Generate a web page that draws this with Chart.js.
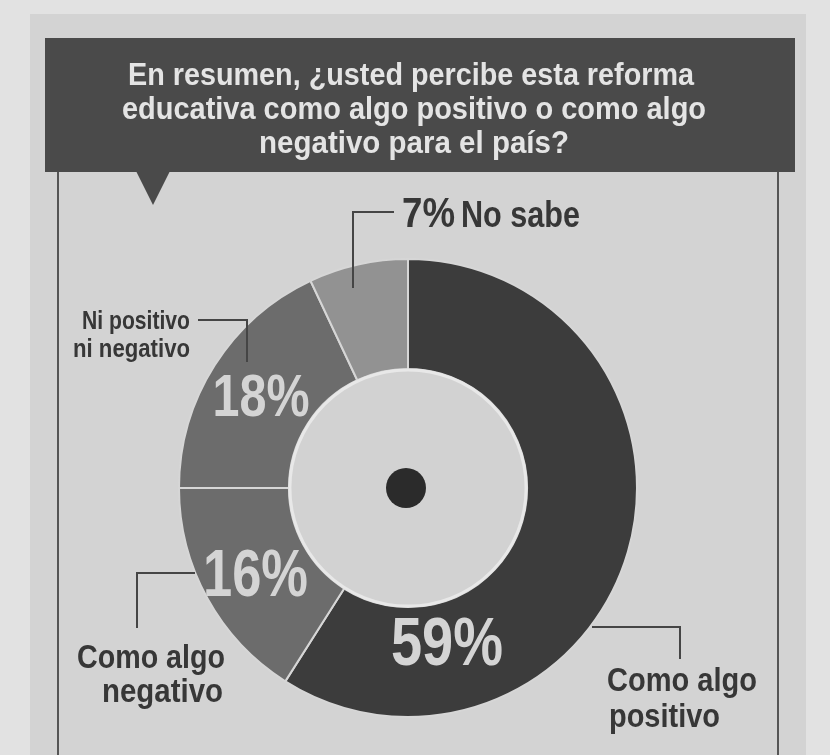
<!DOCTYPE html>
<html>
<head>
<meta charset="utf-8">
<script src="https://cdn.jsdelivr.net/npm/chart.js@4/dist/chart.umd.min.js"></script>
<style>
html, body { margin: 0; padding: 0; background: #e2e2e2; }
#wrap { position: relative; width: 830px; height: 755px; overflow: hidden; }
#panel { position: absolute; left: 30px; top: 14px; width: 776px; height: 760px; background: #d3d3d3; }
canvas { position: absolute; left: 0; top: 0; }
</style>
</head>
<body>
<div id="wrap">
  <div id="panel"></div>
  <canvas id="chart" width="830" height="755"></canvas>
</div>
<script>
const categories = ['Como algo positivo', 'Como algo negativo', 'Ni positivo ni negativo', 'No sabe'];
const values = [59, 16, 18, 7];
const segmentColors = ['#3c3c3c', '#6c6c6c', '#6c6c6c', '#929292'];
const titleLines = [
    'En resumen, ¿usted percibe esta reforma',
    'educativa como algo positivo o como algo',
    'negativo para el país?'
];

const FONT = '"Liberation Sans", Arial, sans-serif';

// draws bold text squeezed to a given width (the paper uses a condensed face)
function txt(ctx, s, x, y, size, color, align, w) {
    ctx.save();
    ctx.font = 'bold ' + size + 'px ' + FONT;
    const m = ctx.measureText(s).width;
    ctx.translate(x, y);
    ctx.scale(w / m, 1);
    ctx.fillStyle = color;
    ctx.textAlign = align;
    ctx.textBaseline = 'alphabetic';
    ctx.fillText(s, 0, 0);
    ctx.restore();
}

function line(ctx, pts) {
    ctx.beginPath();
    ctx.moveTo(pts[0][0], pts[0][1]);
    for (let i = 1; i < pts.length; i++) ctx.lineTo(pts[i][0], pts[i][1]);
    ctx.stroke();
}

const decor = {
    id: 'decor',
    beforeDraw(chart) {
        const ctx = chart.ctx;
        ctx.save();
        // frame
        ctx.strokeStyle = '#555';
        ctx.lineWidth = 2;
        line(ctx, [[58, 172], [58, 760]]);
        line(ctx, [[778, 172], [778, 760]]);
        // title box + pointer
        ctx.fillStyle = '#4a4a4a';
        ctx.fillRect(45, 38, 750, 134);
        ctx.beginPath();
        ctx.moveTo(136, 171);
        ctx.lineTo(170, 171);
        ctx.lineTo(153, 205);
        ctx.closePath();
        ctx.fill();
        ctx.restore();
        txt(ctx, titleLines[0], 411, 85, 32, '#e4e4e4', 'center', 566);
        txt(ctx, titleLines[1], 414, 119, 32, '#e4e4e4', 'center', 584);
        txt(ctx, titleLines[2], 414, 153, 32, '#e4e4e4', 'center', 310);
    },
    afterDatasetsDraw(chart) {
        const ctx = chart.ctx;
        const arcs = chart.getDatasetMeta(0).data;
        const a0 = arcs[0];
        const cx = a0.x, cy = a0.y;
        const rin = a0.innerRadius, rout = a0.outerRadius;

        ctx.save();
        // inner disc with its light rim
        ctx.beginPath();
        ctx.arc(cx, cy, rin - 1, 0, Math.PI * 2);
        ctx.fillStyle = '#d2d2d2';
        ctx.fill();
        ctx.strokeStyle = '#e8e8e8';
        ctx.lineWidth = 3;
        ctx.stroke();
        // center dot
        ctx.beginPath();
        ctx.arc(cx - 2, cy, 20, 0, Math.PI * 2);
        ctx.fillStyle = '#2b2b2b';
        ctx.fill();

        // leader lines
        ctx.strokeStyle = '#454545';
        ctx.lineWidth = 2;
        line(ctx, [[353, 288], [353, 212], [394, 212]]);
        line(ctx, [[198, 320], [247, 320], [247, 362]]);
        line(ctx, [[195, 573], [137, 573], [137, 628]]);
        line(ctx, [[592, 627], [680, 627], [680, 659]]);
        ctx.restore();

        // percentage inside the ring
        const where = [0.78, 0.5, 0.5];
        const depth = [0.35, 0.5, 0.5];
        const sizes = [68, 66, 60];
        const widths = [112, 105, 97];
        for (let i = 0; i < 3; i++) {
            const a = arcs[i];
            const ang = a.startAngle + (a.endAngle - a.startAngle) * where[i];
            const r = rin + (rout - rin) * depth[i];
            const x = cx + Math.cos(ang) * r;
            const y = cy + Math.sin(ang) * r + sizes[i] * 0.36;
            txt(ctx, values[i] + '%', x, y, sizes[i], '#d4d4d4', 'center', widths[i]);
        }

        // outside labels
        const dark = '#373737';
        txt(ctx, values[3] + '%', 402, 227, 42, dark, 'left', 53);
        txt(ctx, 'No sabe', 461, 227, 37, dark, 'left', 119);
        txt(ctx, 'Ni positivo', 190, 329, 26, dark, 'right', 108);
        txt(ctx, 'ni negativo', 190, 357, 26, dark, 'right', 117);
        txt(ctx, 'Como algo', 225, 668, 34, dark, 'right', 148);
        txt(ctx, 'negativo', 223, 702, 34, dark, 'right', 121);
        txt(ctx, 'Como algo', 607, 691, 34, dark, 'left', 150);
        txt(ctx, 'positivo', 609, 727, 34, dark, 'left', 111);
    }
};

const ctx = document.getElementById('chart').getContext('2d');
const myChart = new Chart(ctx, {
    type: 'doughnut',
    data: {
        labels: categories,
        datasets: [{
            data: values,
            backgroundColor: segmentColors,
            borderColor: '#d6d6d6',
            borderWidth: 2
        }]
    },
    options: {
        responsive: false,
        animation: false,
        cutout: '52%',
        layout: { padding: { left: 178, top: 258, right: 192, bottom: 37 } },
        plugins: {
            legend: { display: false },
            tooltip: { enabled: false }
        }
    },
    plugins: [decor]
});
</script>
</body>
</html>
